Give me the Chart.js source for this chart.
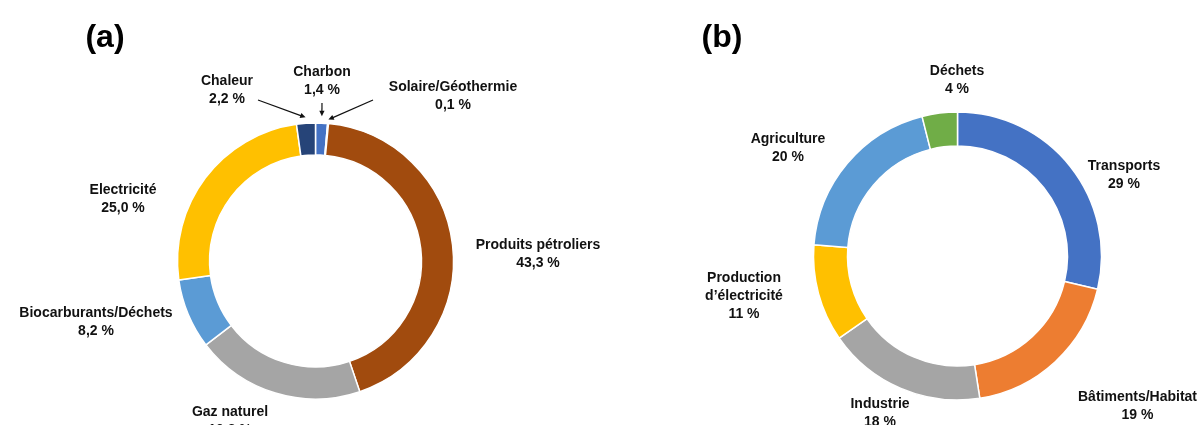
<!DOCTYPE html>
<html>
<head>
<meta charset="utf-8">
<script src="https://cdn.jsdelivr.net/npm/chart.js@4.4.1/dist/chart.umd.min.js"></script>
<style>
  html, body { margin: 0; padding: 0; background: #fff; }
  #wrap { position: relative; width: 1201px; height: 425px; overflow: hidden; }
  #chartA { position: absolute; left: 0; top: 0; }
  #chartB { position: absolute; left: 640px; top: 0; }
</style>
</head>
<body>
<div id="wrap">
  <canvas id="chartA" width="640" height="425"></canvas>
  <canvas id="chartB" width="561" height="425"></canvas>
</div>
<script>
// (a) consommation finale d'énergie
const categoriesA = ["Charbon", "Solaire/Géothermie", "Produits pétroliers", "Gaz naturel", "Biocarburants/Déchets", "Electricité", "Chaleur"];
const valuesA = [1.4, 0.1, 43.3, 19.8, 8.2, 25.0, 2.2];

// (b) émissions par secteur
const categoriesB = ["Transports", "Bâtiments/Habitat", "Industrie", "Production\nd’électricité", "Agriculture", "Déchets"];
const valuesB = [29, 19, 18, 11, 20, 4];

const colorsA = ["#4472C4", "#70AD47", "#A14B0E", "#A5A5A5", "#5B9BD5", "#FFC000", "#264478"];
const colorsB = ["#4472C4", "#ED7D31", "#A5A5A5", "#FFC000", "#5B9BD5", "#70AD47"];

// position des étiquettes (décalage par rapport au centre de l'anneau)
const labelOffsetsA = [[6.5, -189], [137.5, -174], [222.5, -16], [-85.5, 151], [-219.5, 52], [-192.5, -71], [-88.5, -180]];
const labelOffsetsB = [[166.5, -90], [180, 141], [-77.5, 148], [-213.5, 22], [-169.5, -117], [-0.5, -185]];
// flèches : index -> départ (décalage depuis le centre) et écart à l'anneau
const arrowsA = { 6: [[-57.5, -161], 6], 0: [[6.5, -158], 7], 1: [[57.5, -161], 4] };

const FONT = '"Liberation Sans", Arial, sans-serif';

function fmtA(v) { return v.toFixed(1).replace(".", ",") + " %"; }
function fmtB(v) { return v + " %"; }

function labelPlugin(names, values, fmt, offsets, arrows, title, titlePos) {
  return {
    id: "labels",
    afterDraw(chart) {
      const ctx = chart.ctx;
      const arcs = chart.getDatasetMeta(0).data;
      const cx = arcs[0].x, cy = arcs[0].y;
      ctx.save();
      ctx.fillStyle = "#000";
      ctx.font = "bold 32px " + FONT;
      ctx.textAlign = "center";
      ctx.textBaseline = "middle";
      ctx.fillText(title, titlePos[0], titlePos[1]);

      ctx.font = "bold 14px " + FONT;
      ctx.fillStyle = "#111";
      names.forEach((n, i) => {
        const lines = n.split("\n").concat([fmt(values[i])]);
        const x = cx + offsets[i][0], y = cy + offsets[i][1];
        lines.forEach((l, k) => ctx.fillText(l, x, y + k * 18));
      });

      // flèches
      Object.keys(arrows || {}).forEach(k => {
        const arc = arcs[k];
        const [tail, gap] = arrows[k];
        const mid = (arc.startAngle + arc.endAngle) / 2;
        const r = arc.outerRadius + gap;
        const tx = cx + Math.cos(mid) * r, ty = cy + Math.sin(mid) * r;
        const sx = cx + tail[0], sy = cy + tail[1];
        const ang = Math.atan2(ty - sy, tx - sx);
        ctx.strokeStyle = "#111";
        ctx.lineWidth = 1.2;
        ctx.beginPath();
        ctx.moveTo(sx, sy);
        ctx.lineTo(tx - Math.cos(ang) * 3, ty - Math.sin(ang) * 3);
        ctx.stroke();
        ctx.beginPath();
        ctx.moveTo(tx, ty);
        ctx.lineTo(tx - Math.cos(ang - 0.45) * 6, ty - Math.sin(ang - 0.45) * 6);
        ctx.lineTo(tx - Math.cos(ang + 0.45) * 6, ty - Math.sin(ang + 0.45) * 6);
        ctx.closePath();
        ctx.fill();
      });
      ctx.restore();
    }
  };
}

function donut(id, names, values, colors, radius, cutout, padding, plugin) {
  new Chart(document.getElementById(id), {
    type: "doughnut",
    data: {
      labels: names,
      datasets: [{
        data: values,
        backgroundColor: colors,
        borderColor: "#ffffff",
        borderWidth: 1.5,
        radius: radius,
        cutout: cutout
      }]
    },
    options: {
      responsive: false,
      animation: false,
      layout: { padding: padding },
      plugins: {
        legend: { display: false },
        tooltip: { enabled: false }
      }
    },
    plugins: [plugin]
  });
}

donut("chartA", categoriesA, valuesA, colorsA, 138, "76.8%",
  { left: 1, right: 10, top: 97, bottom: 0 },
  labelPlugin(categoriesA, valuesA, fmtA, labelOffsetsA, arrowsA, "(a)", [105, 38]));

donut("chartB", categoriesB, valuesB, colorsB, 144, "76.4%",
  { left: 74, right: 0, top: 87, bottom: 0 },
  labelPlugin(categoriesB, valuesB, fmtB, labelOffsetsB, null, "(b)", [82, 38]));
</script>
</body>
</html>
